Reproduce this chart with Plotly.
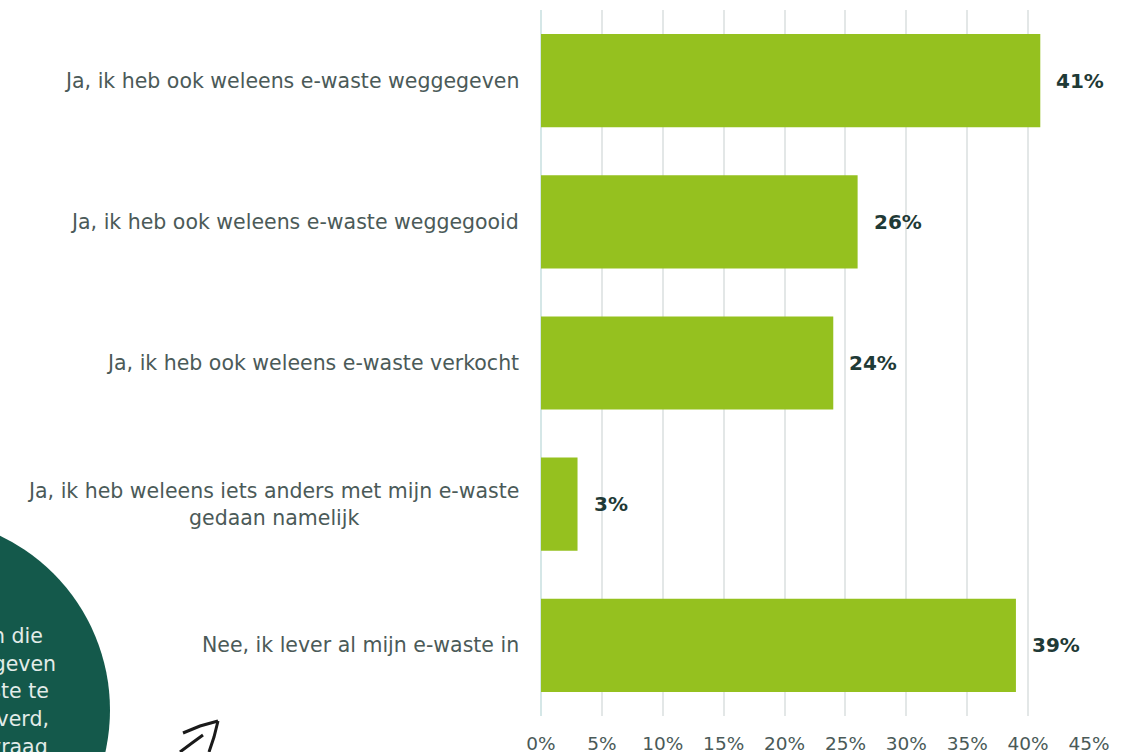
import plotly.graph_objects as go

# Survey answers and their shares (percent)
categories = [
    "Ja, ik heb ook weleens e-waste weggegeven",
    "Ja, ik heb ook weleens e-waste weggegooid",
    "Ja, ik heb ook weleens e-waste verkocht",
    "Ja, ik heb weleens iets anders met mijn e-waste<br>gedaan namelijk",
    "Nee, ik lever al mijn e-waste in",
]
values = [41, 26, 24, 3, 39]
tick_values = [0, 5, 10, 15, 20, 25, 30, 35, 40, 45]
tick_labels = [f"{v}%" for v in tick_values]

W, H = 1123, 752
L, R, T, B = 541, 34, 10, 36
PW, PH = W - L - R, H - T - B


def px(x):
    return (x - L) / PW


def py(y):
    return (H - B - y) / PH


GREEN = "#95c11f"
DARK = "#1f3a36"
LABEL = "#4b5a58"
FONT = "DejaVu Sans ExtraLight, DejaVu Sans"
BOLD = "DejaVu Sans"

fig = go.Figure(
    go.Bar(
        x=values,
        y=categories,
        orientation="h",
        marker=dict(color=GREEN, line=dict(width=0)),
        width=0.66,
        hoverinfo="skip",
    )
)

annotations = []
# Category labels, right-aligned against the plot, wrapped lines centred
for c in categories:
    annotations.append(
        dict(
            x=px(521), xref="paper", y=c, yref="y",
            text=c, showarrow=False, xanchor="right", align="center",
            font=dict(family=FONT, size=20.5, color=LABEL),
        )
    )

# Value labels just past the end of each bar
for c, v in zip(categories, values):
    annotations.append(
        dict(
            x=v, xref="x", y=c, yref="y", xshift=14,
            text=f"{v}%", showarrow=False, xanchor="left",
            font=dict(family=BOLD, size=20, color=DARK, weight=700),
        )
    )

# Text in the green callout circle (runs off the left edge)
circle_lines = [
    ("respondenten die", 45, 636),
    ("aangegeven", 58, 664),
    ("e-waste te", 51, 691),
    ("ingeleverd,", 51, 719),
    ("vraag", 50, 747),
]
for txt, xr, yc in circle_lines:
    annotations.append(
        dict(
            x=px(xr), xref="paper", y=py(yc), yref="paper",
            text=txt, showarrow=False, xanchor="right", yanchor="middle",
            font=dict(family=FONT, size=20.5, color="#e3ece9"),
        )
    )

shapes = [
    dict(
        type="circle", xref="paper", yref="paper", layer="below",
        x0=px(-83 - 193), x1=px(-83 + 193), y0=py(710 + 193), y1=py(710 - 193),
        fillcolor="#14594b", line=dict(width=0),
    ),
]

# Hand-drawn arrow
arrow_strokes = [
    [(183, 733), (200, 726), (218, 721)],
    [(218, 721), (214, 737), (209, 752)],
    [(203, 735), (192, 743), (180, 752)],
]
for pts in arrow_strokes:
    path = "M " + " L ".join(f"{px(x)},{py(y)}" for x, y in pts)
    shapes.append(
        dict(type="path", xref="paper", yref="paper", path=path,
             line=dict(color="#1a1a1a", width=3))
    )

fig.update_layout(
    width=W, height=H,
    margin=dict(l=L, r=R, t=T, b=B, pad=0, autoexpand=False),
    paper_bgcolor="white", plot_bgcolor="white",
    showlegend=False,
    xaxis=dict(
        range=[0, 45], tickvals=tick_values, ticktext=tick_labels,
        showgrid=True, gridcolor="#e3e7e7", gridwidth=2,
        zeroline=True, zerolinecolor="#d5e7e7", zerolinewidth=2,
        showline=False, ticks="", ticklabelstandoff=14, automargin=False,
        tickfont=dict(family=FONT, size=18.5, color="#4a5a58"),
        fixedrange=True,
    ),
    yaxis=dict(
        categoryorder="array", categoryarray=categories[::-1],
        showticklabels=False, showgrid=False, zeroline=False,
        range=[-0.5, 4.5], fixedrange=True, automargin=False,
    ),
    annotations=annotations,
    shapes=shapes,
)

fig.write_html("out.html")
